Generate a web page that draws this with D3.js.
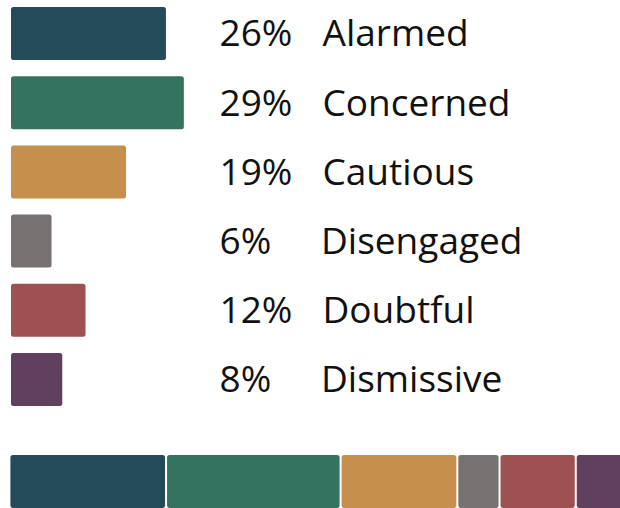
<!DOCTYPE html>
<html>
<head>
<meta charset="utf-8">
<script src="https://cdn.jsdelivr.net/npm/d3@7"></script>
<style>
  html, body { margin: 0; padding: 0; background: #fff; }
  svg { display: block; }
  .label { font-family: "Open Sans", sans-serif; font-size: 37px; fill: #111; }
</style>
</head>
<body>
<svg id="chart"></svg>
<script>
// segments, top to bottom
const categories = ["Alarmed", "Concerned", "Cautious", "Disengaged", "Doubtful", "Dismissive"];
// bar lengths (percent)
const shares = [26, 29, 19.3, 6.8, 12.5, 8.6];
// printed labels
const pctLabels = ["26%", "29%", "19%", "6%", "12%", "8%"];
const colors = ["#234b5a", "#347360", "#c68f4d", "#77726f", "#9d5151", "#60405c"];

const width = 620;
const height = 508;
const svg = d3.select("#chart").attr("width", width).attr("height", height);

const data = categories.map((c, i) => ({
  name: c,
  value: shares[i],
  pct: pctLabels[i],
  color: colors[i],
}));

const x = d3.scaleLinear().domain([0, 100]).range([11, 11 + 596]);

const y = d3
  .scaleBand()
  .domain(categories)
  .range([7, 406])
  .paddingInner(0.234)
  .paddingOuter(0);

// single bars
svg
  .selectAll(".bar")
  .data(data)
  .join("rect")
  .attr("class", "bar")
  .attr("x", x(0))
  .attr("y", (d) => y(d.name))
  .attr("width", (d) => x(d.value) - x(0))
  .attr("height", y.bandwidth())
  .attr("rx", 2.5)
  .attr("fill", (d) => d.color);

svg
  .selectAll(".pct")
  .data(data)
  .join("text")
  .attr("class", "label pct")
  .attr("x", 219.5)
  .attr("y", (d) => y(d.name) + y.bandwidth() / 2)
  .attr("dy", "0.35em")
  .text((d) => d.pct);

svg
  .selectAll(".name")
  .data(data)
  .join("text")
  .attr("class", "label name")
  .attr("x", (d) => (d.pct.length < 3 ? 321 : 322.5))
  .attr("y", (d) => y(d.name) + y.bandwidth() / 2)
  .attr("dy", "0.35em")
  .text((d) => d.name);

// stacked bar at the bottom, same scale, small gaps
const gap = 1.7;
let acc = 10.4;
const stacked = data.map((d) => {
  const w = x(d.value) - x(0);
  const s = { ...d, x0: acc, w: w };
  acc += w + gap;
  return s;
});

svg
  .selectAll(".seg")
  .data(stacked)
  .join("rect")
  .attr("class", "seg")
  .attr("x", (d) => d.x0)
  .attr("y", 455)
  .attr("width", (d) => d.w - 0.3)
  .attr("height", y.bandwidth())
  .attr("rx", 2.5)
  .attr("fill", (d) => d.color);
</script>
</body>
</html>
